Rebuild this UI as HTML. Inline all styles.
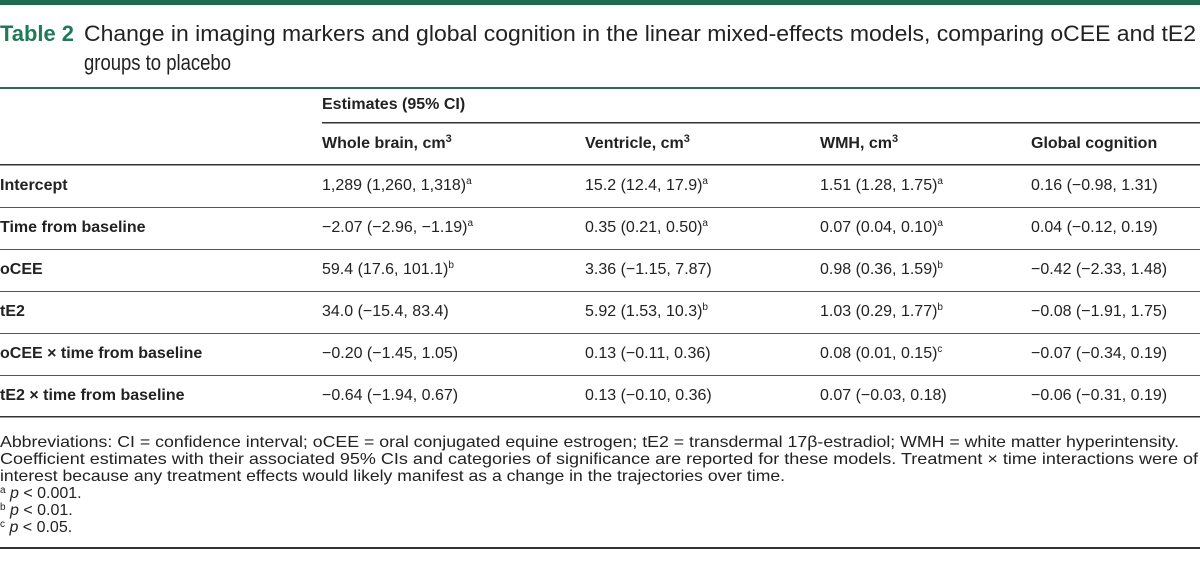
<!DOCTYPE html>
<html><head><meta charset="utf-8"><style>
html,body{margin:0;padding:0;background:#fff;width:1200px;height:568px;overflow:hidden}
svg{display:block;font-family:"Liberation Sans",sans-serif}
.b{font-weight:bold}
</style></head><body>
<svg width="1200" height="568" viewBox="0 0 1200 568">
<rect x="0" y="0" width="1200" height="5" fill="#1f6b4f"/>
<text x="0" y="41" font-size="22" font-weight="bold" fill="#1f7a58" textLength="74" lengthAdjust="spacingAndGlyphs">Table 2</text>
<text x="84" y="41" font-size="22" fill="#222" textLength="1112" lengthAdjust="spacingAndGlyphs">Change in imaging markers and global cognition in the linear mixed-effects models, comparing oCEE and tE2</text>
<text x="84" y="70" font-size="22" fill="#222" textLength="147" lengthAdjust="spacingAndGlyphs">groups to placebo</text>
<rect x="0" y="87" width="1200" height="2" fill="#2e6b55"/>
<text x="322" y="109" font-size="16" class="b" fill="#222">Estimates (95% CI)</text>
<rect x="322" y="122" width="878" height="1.5" fill="#333"/>
<g font-size="16" font-weight="bold" fill="#222">
<text x="322" y="148">Whole brain, cm<tspan dy="-6" font-size="11">3</tspan></text>
<text x="585" y="148">Ventricle, cm<tspan dy="-6" font-size="11">3</tspan></text>
<text x="820" y="148">WMH, cm<tspan dy="-6" font-size="11">3</tspan></text>
<text x="1031" y="148">Global cognition</text>
</g>
<rect x="0" y="164" width="1200" height="1.5" fill="#333"/>
<g id="rows" font-size="16" fill="#222"></g>
<g font-size="16" fill="#222">
<text x="0" y="447" textLength="1179" lengthAdjust="spacingAndGlyphs">Abbreviations: CI = confidence interval; oCEE = oral conjugated equine estrogen; tE2 = transdermal 17β-estradiol; WMH = white matter hyperintensity.</text>
<text x="0" y="464" textLength="1198" lengthAdjust="spacingAndGlyphs">Coefficient estimates with their associated 95% CIs and categories of significance are reported for these models. Treatment × time interactions were of</text>
<text x="0" y="481" textLength="785" lengthAdjust="spacingAndGlyphs">interest because any treatment effects would likely manifest as a change in the trajectories over time.</text>
<text x="0" y="498"><tspan font-size="10" dy="-5">a</tspan><tspan dy="5" font-style="italic"> p</tspan> &lt; 0.001.</text>
<text x="0" y="515"><tspan font-size="10" dy="-5">b</tspan><tspan dy="5" font-style="italic"> p</tspan> &lt; 0.01.</text>
<text x="0" y="532"><tspan font-size="10" dy="-5">c</tspan><tspan dy="5" font-style="italic"> p</tspan> &lt; 0.05.</text>
</g>
<rect x="0" y="547" width="1200" height="2" fill="#333"/>
</svg>
<script>
const rowLabels=["Intercept","Time from baseline","oCEE","tE2","oCEE × time from baseline","tE2 × time from baseline"];
const wholeBrain=[["1,289 (1,260, 1,318)","a"],["−2.07 (−2.96, −1.19)","a"],["59.4 (17.6, 101.1)","b"],["34.0 (−15.4, 83.4)",""],["−0.20 (−1.45, 1.05)",""],["−0.64 (−1.94, 0.67)",""]];
const ventricle=[["15.2 (12.4, 17.9)","a"],["0.35 (0.21, 0.50)","a"],["3.36 (−1.15, 7.87)",""],["5.92 (1.53, 10.3)","b"],["0.13 (−0.11, 0.36)",""],["0.13 (−0.10, 0.36)",""]];
const wmh=[["1.51 (1.28, 1.75)","a"],["0.07 (0.04, 0.10)","a"],["0.98 (0.36, 1.59)","b"],["1.03 (0.29, 1.77)","b"],["0.08 (0.01, 0.15)","c"],["0.07 (−0.03, 0.18)",""]];
const cognition=[["0.16 (−0.98, 1.31)",""],["0.04 (−0.12, 0.19)",""],["−0.42 (−2.33, 1.48)",""],["−0.08 (−1.91, 1.75)",""],["−0.07 (−0.34, 0.19)",""],["−0.06 (−0.31, 0.19)",""]];
const NS="http://www.w3.org/2000/svg";
const g=document.getElementById('rows');
const cols=[[322,wholeBrain],[585,ventricle],[820,wmh],[1031,cognition]];
rowLabels.forEach((lab,i)=>{
  const y=190+i*42;
  const t=document.createElementNS(NS,'text');
  t.setAttribute('x',0);t.setAttribute('y',y);t.setAttribute('font-weight','bold');
  t.textContent=lab;
  
  
  g.appendChild(t);
  cols.forEach(([x,arr])=>{
    const c=document.createElementNS(NS,'text');
    c.setAttribute('x',x);c.setAttribute('y',y);
    c.textContent=arr[i][0];
    if(arr[i][1]){const s=document.createElementNS(NS,'tspan');s.setAttribute('dy','-6');s.setAttribute('font-size','10');s.textContent=arr[i][1];c.appendChild(s);}
    
    
    g.appendChild(c);
  });
  if(i<rowLabels.length-1){
    const r=document.createElementNS(NS,'rect');
    r.setAttribute('x',0);r.setAttribute('y',y+17);r.setAttribute('width',1200);r.setAttribute('height',1);r.setAttribute('fill','#555');
    
    
    g.appendChild(r);
  }
});
const last=document.createElementNS(NS,'rect');
last.setAttribute('x',0);last.setAttribute('y',416);last.setAttribute('width',1200);last.setAttribute('height',1.5);last.setAttribute('fill','#333');


g.appendChild(last);
</script>
</body></html>
